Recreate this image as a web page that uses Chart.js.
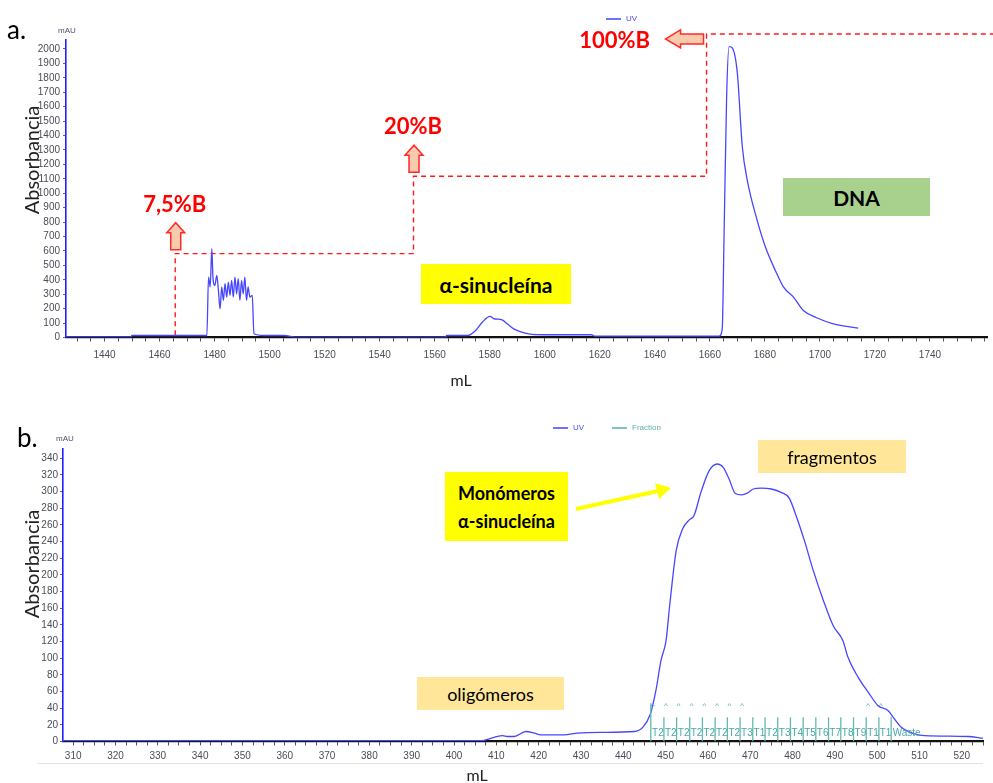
<!DOCTYPE html>
<html>
<head>
<meta charset="utf-8">
<script src="https://cdn.jsdelivr.net/npm/chart.js@4.4.1/dist/chart.umd.min.js"></script>
<style>
  html, body { margin: 0; padding: 0; background: #fff; }
  body { width: 993px; height: 783px; position: relative; overflow: hidden; font-family: Lato, "Open Sans", sans-serif; }
  canvas { position: absolute; left: 0; }
  .t { position: absolute; white-space: nowrap; line-height: 1; }
  .panel { font-size: 26px; color: #000; }
  .ylab { font-size: 20px; color: #222; transform: translate(-50%, -50%) rotate(-90deg); }
  .xlab { font-size: 16px; color: #222; transform: translate(-50%, -50%); }
  .unit { font-family: "Liberation Sans Narrow", "Liberation Sans", sans-serif; font-size: 8px; color: #5a4a6a; }
  .box { position: absolute; display: flex; align-items: center; justify-content: center; text-align: center; color: #000; }
  .leg { position: absolute; font-family: "Liberation Sans Narrow", "Liberation Sans", sans-serif; font-size: 8px; display: flex; align-items: center; }
  .leg i { display: inline-block; width: 15px; height: 2px; margin-right: 5px; }
</style>
</head>
<body>
<canvas id="chartA" width="993" height="400" style="top:0"></canvas>
<canvas id="chartB" width="993" height="383" style="top:400px"></canvas>

<!-- panel a texts -->
<div class="t panel" style="left:7px;top:16px">a.</div>
<div class="t unit" style="left:58px;top:27px">mAU</div>
<div class="t ylab" style="left:31px;top:160px">Absorbancia</div>
<div class="t xlab" style="left:461px;top:380px">mL</div>
<div class="leg" style="left:606px;top:14px;color:#4a4aff"><i style="background:#7070ff"></i>UV</div>
<div class="box" style="left:421px;top:264px;width:150px;height:40px;background:#FFFF00;font-weight:700;font-size:21px">α-sinucleína</div>
<div class="box" style="left:783px;top:178px;width:147px;height:38px;background:#A9D18E;font-weight:700;font-size:21px">DNA</div>

<!-- panel b texts -->
<div class="t panel" style="left:17px;top:424px">b.</div>
<div class="t unit" style="left:56px;top:435px">mAU</div>
<div class="t ylab" style="left:31px;top:564px">Absorbancia</div>
<div class="t xlab" style="left:477px;top:775px">mL</div>
<div class="leg" style="left:553px;top:423px;color:#4a4aff"><i style="background:#7070ff"></i>UV</div>
<div class="leg" style="left:612px;top:423px;color:#5aaeae"><i style="background:#7cc4c0"></i>Fraction</div>
<div class="box" style="left:758px;top:440px;width:148px;height:33px;background:#FFE699;font-size:18px">fragmentos</div>
<div class="box" style="left:417px;top:677px;width:147px;height:33px;background:#FFE699;font-size:18px">oligómeros</div>
<div class="box" style="left:445px;top:472px;width:123px;height:69px;background:#FFFF00;font-weight:700;font-size:18px;line-height:28px">Monómeros<br>α-sinucleína</div>
<div style="position:absolute;left:37px;top:763px;width:946px;height:1px;background:#e2e2e2"></div>
<svg style="position:absolute;left:0;top:0" width="993" height="783">
  <line x1="576" y1="509" x2="658" y2="491" stroke="#FFFF00" stroke-width="4"/>
  <polygon points="671,488 655,483 659,499" fill="#FFFF00"/>
</svg>

<script>
// ---- Panel a: ion-exchange run (UV trace) ----
const aVolume = [1426, 1449.7, 1449.9, 1477.2, 1477.8, 1478.4, 1479, 1479.4, 1480.1, 1480.8, 1481.4, 1482,
  1482.6, 1483.2, 1483.8, 1484.4, 1485, 1485.6, 1486.2, 1486.8, 1487.4, 1488, 1488.6, 1489.2, 1489.8, 1490.4,
  1491, 1491.6, 1492.2, 1492.8, 1493.7, 1494.3, 1497.9, 1505.1, 1510, 1564, 1564.3, 1571.9, 1574.9, 1577.3,
  1580.1, 1581.5, 1584.5, 1586.3, 1588.7, 1591.7, 1595.3, 1599.6, 1617, 1618.2, 1663.4, 1664.5, 1665.2, 1666.1,
  1667, 1668.2, 1670, 1671.8, 1673.6, 1677.2, 1680.2, 1683.8, 1686.8, 1690.4, 1694, 1698.8, 1704.9, 1713.9];
const aAbsorbance = [5, 5, 14, 14, 419, 350, 616, 419, 361, 430, 326, 199,
  350, 257, 373, 280, 384, 292, 396, 280, 419, 303, 408, 257, 396, 303,
  419, 257, 350, 280, 292, 26, 14, 14, 2, 2, 14, 14, 49, 106,
  146, 130, 123, 95, 60, 37, 21, 19, 19, 9, 9, 60, 743, 1669,
  2016, 2005, 1831, 1322, 1090, 812, 627, 465, 349, 280, 187, 137, 95, 65];

// elution gradient steps (%B), drawn on the mAU axis
const gradientStepLabels = ['7,5%B', '20%B', '100%B'];
const gradientStepMl = [1465.7, 1552.3, 1658.8];
const gradientStepLevel = [581, 1118, 2104];
const gradientStartLevel = 15;
const gradientEndMl = 1764;

const aXLabels = [1440, 1460, 1480, 1500, 1520, 1540, 1560, 1580, 1600, 1620, 1640, 1660, 1680, 1700, 1720, 1740];
const aYLabels = [0, 100, 200, 300, 400, 500, 600, 700, 800, 900, 1000, 1100, 1200, 1300, 1400, 1500, 1600, 1700, 1800, 1900, 2000];

// ---- Panel b: size-exclusion run (UV trace + fractions) ----
const bVolume = [307.6, 330, 360, 390, 406.3, 409.5, 411.5, 412.6, 414.2, 417, 419, 420.5, 426, 429.2, 434.7,
  442.6, 444.6, 446.4, 447.7, 448.9, 450.1, 451, 452.5, 454, 455.6, 456.7, 458.4, 460.3, 462.2, 463.6, 465,
  466.4, 467.9, 469.3, 470.7, 472.6, 475, 477.3, 479.2, 480.9, 482.8, 484.9, 487.3, 489.6, 491.9, 493.1, 495.5,
  497.9, 500.2, 502.6, 503.8, 505.7, 508.9, 511.2, 521.5, 525];
const bAbsorbance = [1, 1, 1, 1, 1, 5, 7, 6, 6, 12, 10, 8, 8, 10, 11,
  12, 17, 33, 61, 97, 121, 165, 229, 255, 266, 271, 300, 325, 333, 329, 315,
  298, 296, 298, 303, 304, 303, 299, 292, 270, 241, 205, 169, 139, 121, 101, 77,
  59, 43, 37, 29, 17, 9, 7, 6, 4];

const fractionMl = [446.5, 449.6, 452.6, 455.7, 458.7, 461.7, 464.6, 467.6, 470.6, 473.5,
  476.5, 479.5, 482.5, 485.5, 488.5, 491.4, 494.4, 497.4, 500.4, 503.3];
const fractionNames = ['T2', 'T2', 'T2', 'T2', 'T2', 'T2', 'T2', 'T3', 'T1', 'T2',
  'T3', 'T4', 'T5', 'T6', 'T7', 'T8', 'T9', 'T1', 'T1', 'Waste'];
const fractionTop = [46, 29, 29, 29, 29, 29, 29, 29, 29, 29,
  29, 29, 29, 29, 29, 29, 29, 29, 29, 29];
const fractionFlagged = [0, 1, 2, 3, 4, 5, 6, 7, 17, 18];

const bXLabels = [310, 320, 330, 340, 350, 360, 370, 380, 390, 400, 410, 420, 430, 440, 450, 460, 470, 480, 490, 500, 510, 520];
const bYLabels = [0, 20, 40, 60, 80, 100, 120, 140, 160, 180, 200, 220, 240, 260, 280, 300, 320, 340];

// ---- shared helpers ----
const tickFont = { family: '"Liberation Sans Narrow", "Liberation Sans", sans-serif', size: 10 };
const tickColor = '#4e4a5a';
const UV_COLOR = '#4646ff';
const FRACTION_COLOR = '#5fb8b2';

function zip(xs, ys) { return xs.map((v, i) => ({ x: v, y: ys[i] })); }

function tickSet(min, max, step) {
  const out = [];
  for (let v = Math.ceil(min / step) * step; v <= max + 1e-9; v += step) out.push({ value: +v.toFixed(3) });
  return out;
}

function xScale(min, max, minorStep, labels, pad, height) {
  return {
    type: 'linear', min, max,
    border: { display: true, color: '#111', width: 2.2 },
    grid: { display: true, drawOnChartArea: false, drawTicks: true, tickLength: 4, tickColor: '#555', tickWidth: 1 },
    ticks: {
      font: tickFont, color: tickColor, padding: pad, maxRotation: 0, autoSkip: false,
      callback: (v) => labels.includes(Math.round(v * 1000) / 1000) ? String(v) : ''
    },
    afterBuildTicks: (s) => { s.ticks = tickSet(min, max, minorStep); },
    afterFit: (s) => { s.height = height; }
  };
}

function yScale(max, labels, pad, width) {
  return {
    type: 'linear', min: 0, max,
    border: { display: true, color: '#2020ff', width: 1.6 },
    grid: { display: true, drawOnChartArea: false, drawTicks: true, tickLength: 3, tickColor: '#666', tickWidth: 1 },
    ticks: { font: tickFont, color: tickColor, padding: pad, autoSkip: false, callback: (v) => String(v) },
    afterBuildTicks: (s) => { s.ticks = labels.map(v => ({ value: v })); },
    afterFit: (s) => { s.width = width; }
  };
}

// arrows and %B captions for each gradient step
const gradientMarks = {
  id: 'gradientMarks',
  afterDatasetsDraw(chart) {
    const { ctx, scales: { x, y } } = chart;
    ctx.save();
    ctx.lineWidth = 1.5;
    ctx.lineJoin = 'miter';
    gradientStepMl.forEach((ml, i) => {
      const px = x.getPixelForValue(ml);
      const py = y.getPixelForValue(gradientStepLevel[i]);
      ctx.beginPath();
      let lx, ly;
      if (i < gradientStepMl.length - 1) {
        const cx = px + 0.5, b = py - 4, t = b - 27, hb = t + 10;
        ctx.moveTo(cx - 5, b); ctx.lineTo(cx - 5, hb); ctx.lineTo(cx - 9, hb); ctx.lineTo(cx, t);
        ctx.lineTo(cx + 9, hb); ctx.lineTo(cx + 5, hb); ctx.lineTo(cx + 5, b); ctx.closePath();
        lx = cx - 1; ly = t - 18;
      } else {
        const cy = py + 5, r = px - 3, l = px - 41, hb = l + 15;
        ctx.moveTo(r, cy - 5); ctx.lineTo(hb, cy - 5); ctx.lineTo(hb, cy - 9); ctx.lineTo(l, cy);
        ctx.lineTo(hb, cy + 9); ctx.lineTo(hb, cy + 5); ctx.lineTo(r, cy + 5); ctx.closePath();
        lx = l - 51; ly = cy + 2;
      }
      ctx.fillStyle = '#F8CBAD';
      ctx.strokeStyle = '#FF2a2a';
      ctx.fill(); ctx.stroke();
      ctx.fillStyle = '#FF0000';
      ctx.font = 'bold 22px Lato, "Open Sans", sans-serif';
      ctx.textAlign = 'center';
      ctx.textBaseline = 'middle';
      ctx.fillText(gradientStepLabels[i], lx, ly);
    });
    ctx.restore();
  }
};

// fraction captions and flags
const fractionMarks = {
  id: 'fractionMarks',
  afterDatasetsDraw(chart) {
    const { ctx, scales: { x, y } } = chart;
    ctx.save();
    ctx.fillStyle = '#4aa8a6';
    ctx.font = '10px "Liberation Sans Narrow", "Liberation Sans", sans-serif';
    ctx.textBaseline = 'middle';
    const ly = y.getPixelForValue(10);
    fractionMl.forEach((ml, i) => {
      const px = x.getPixelForValue(ml);
      if (i < fractionMl.length - 1) {
        const nx = x.getPixelForValue(fractionMl[i + 1]);
        ctx.textAlign = 'center';
        ctx.fillText(fractionNames[i], (px + nx) / 2 + 0.5, ly);
      } else {
        ctx.textAlign = 'left';
        ctx.fillText(fractionNames[i], px + 1.5, ly);
      }
    });
    ctx.font = '8px "Liberation Sans", sans-serif';
    ctx.textAlign = 'center';
    const fy = y.getPixelForValue(43);
    fractionFlagged.forEach((i) => {
      ctx.fillText('^', x.getPixelForValue(fractionMl[i]) + 2, fy);
    });
    ctx.restore();
  }
};

const gradientPoints = [{ x: gradientStepMl[0], y: gradientStartLevel }];
gradientStepMl.forEach((ml, i) => {
  gradientPoints.push({ x: ml, y: gradientStepLevel[i] });
  const nextMl = i < gradientStepMl.length - 1 ? gradientStepMl[i + 1] : gradientEndMl;
  gradientPoints.push({ x: nextMl, y: gradientStepLevel[i] });
});

const fractionPoints = [];
fractionMl.forEach((ml, i) => {
  fractionPoints.push({ x: ml, y: 0 }, { x: ml, y: fractionTop[i] }, { x: ml, y: null });
});

const common = {
  responsive: false,
  animation: false,
  events: [],
  plugins: { legend: { display: false }, tooltip: { enabled: false } },
  elements: { point: { radius: 0 } }
};

new Chart(document.getElementById('chartA'), {
  type: 'line',
  data: {
    datasets: [
      { label: 'UV', data: zip(aVolume, aAbsorbance), borderColor: UV_COLOR, borderWidth: 1.3, cubicInterpolationMode: 'monotone', fill: false },
      { label: '%B', data: gradientPoints, borderColor: '#FF1a1a', borderWidth: 1.4, borderDash: [5, 4], tension: 0, fill: false, clip: false }
    ]
  },
  options: Object.assign({}, common, {
    layout: { padding: { left: 36, right: 3, top: 40, bottom: 37.5 } },
    scales: {
      x: xScale(1426, 1761, 5, aXLabels, 8, 25),
      y: yScale(2062, aYLabels, 3, 30)
    }
  }),
  plugins: [gradientMarks]
});

new Chart(document.getElementById('chartB'), {
  type: 'line',
  data: {
    datasets: [
      { label: 'Fraction', data: fractionPoints, borderColor: FRACTION_COLOR, borderWidth: 1.3, spanGaps: false, tension: 0, fill: false },
      { label: 'UV', data: zip(bVolume, bAbsorbance), borderColor: UV_COLOR, borderWidth: 1.3, cubicInterpolationMode: 'monotone', fill: false }
    ]
  },
  options: Object.assign({}, common, {
    layout: { padding: { left: 35, right: 10, top: 49, bottom: 16.5 } },
    scales: {
      x: xScale(307.6, 525, 2.5, bXLabels, 5, 25),
      y: yScale(351, bYLabels, 2, 28)
    }
  }),
  plugins: [fractionMarks]
});
</script>
</body>
</html>
